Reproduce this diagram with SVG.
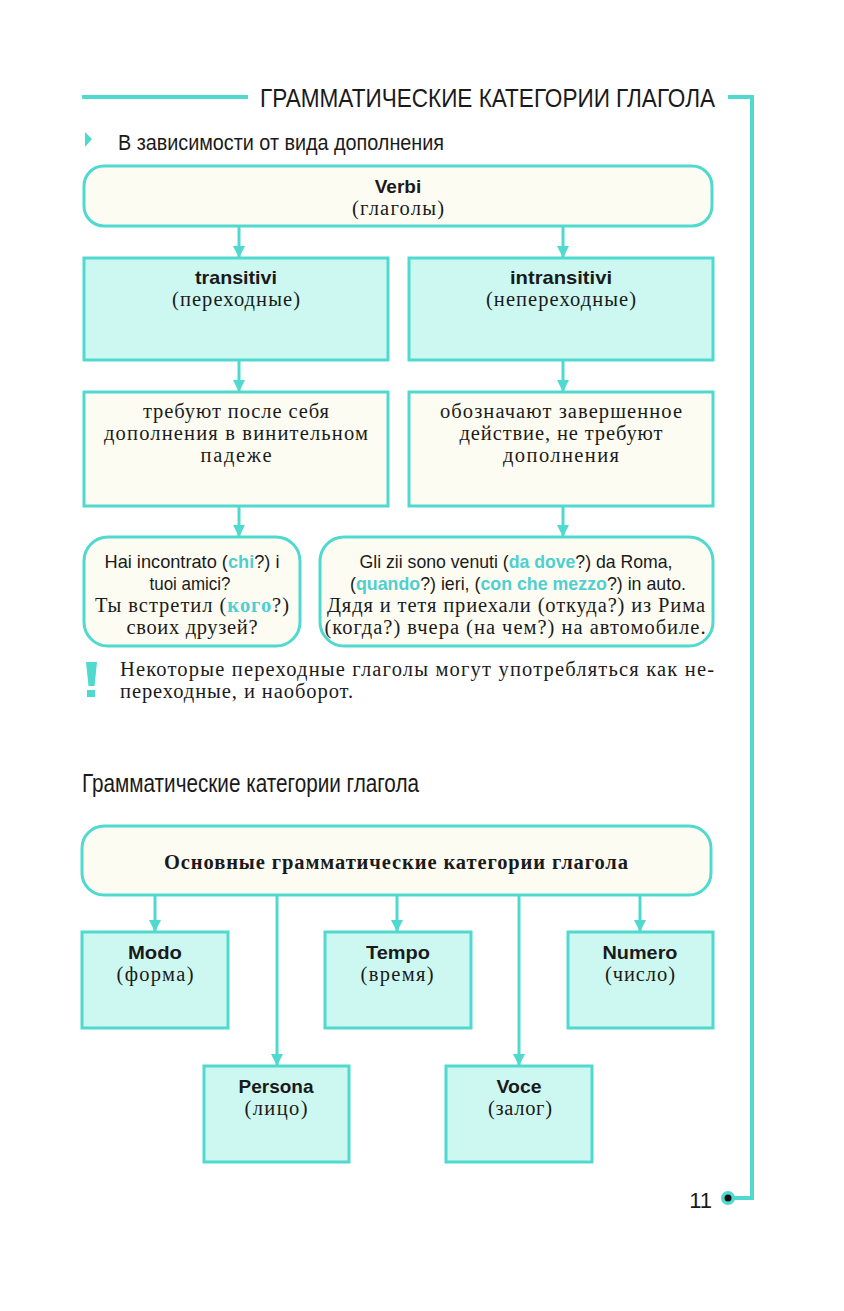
<svg xmlns="http://www.w3.org/2000/svg" width="844" height="1311" viewBox="0 0 844 1311">
<style>
  .bg{fill:#ffffff}
  .frame{fill:none;stroke:#4fd9cf;stroke-width:4}
  .cream{fill:#fdfcf3;stroke:#4fd9cf;stroke-width:3}
  .cyan{fill:#cdf8f1;stroke:#4fd9cf;stroke-width:3}
  .conn{fill:none;stroke:#4fd9cf;stroke-width:3}
  .sans{font-family:"Liberation Sans","Open Sans",sans-serif;fill:#1a1a1a}
  .serif{font-family:"Liberation Serif","DejaVu Serif",serif;fill:#1a1a1a;font-size:20.5px}
  .bold{font-weight:bold}
  .hl{fill:#4fcfd0;font-weight:bold}
  .mid{text-anchor:middle}
</style>
<defs>
  <marker id="ah" viewBox="0 0 12 12" refX="12" refY="6" markerWidth="12" markerHeight="12" orient="auto" markerUnits="userSpaceOnUse">
    <path d="M0,0 L12,6 L0,12 z" fill="#4fd9cf"/>
  </marker>
</defs>
<rect class="bg" x="0" y="0" width="844" height="1311"/>

<g id="page-frame">
  <line class="frame" x1="82" y1="97" x2="248" y2="97"/>
  <polyline class="frame" points="728,97 752,97 752,1198 730,1198"/>
  <circle cx="728" cy="1198" r="7" fill="#4fd9cf"/>
  <circle cx="728" cy="1198" r="3.5" fill="#111"/>
  <text class="sans" x="260" y="107" font-size="25" textLength="455" lengthAdjust="spacingAndGlyphs">ГРАММАТИЧЕСКИЕ КАТЕГОРИИ ГЛАГОЛА</text>
  <text class="sans" x="712" y="1208" font-size="22" text-anchor="end">11</text>
</g>

<g id="subtitle">
  <path d="M85,132 L92,139 L85,147 z" fill="#4fd9cf"/>
  <text class="sans" x="118" y="150" font-size="22" textLength="326" lengthAdjust="spacingAndGlyphs">В зависимости от вида дополнения</text>
</g>

<g id="connectors">
  <line class="conn" x1="239" y1="226" x2="239" y2="258" marker-end="url(#ah)"/>
  <line class="conn" x1="563" y1="226" x2="563" y2="258" marker-end="url(#ah)"/>
  <line class="conn" x1="239" y1="360" x2="239" y2="392" marker-end="url(#ah)"/>
  <line class="conn" x1="563" y1="360" x2="563" y2="392" marker-end="url(#ah)"/>
  <line class="conn" x1="239" y1="506" x2="239" y2="537" marker-end="url(#ah)"/>
  <line class="conn" x1="563" y1="506" x2="563" y2="537" marker-end="url(#ah)"/>
  <line class="conn" x1="155" y1="895" x2="155" y2="932" marker-end="url(#ah)"/>
  <line class="conn" x1="397" y1="895" x2="397" y2="932" marker-end="url(#ah)"/>
  <line class="conn" x1="640" y1="895" x2="640" y2="932" marker-end="url(#ah)"/>
  <line class="conn" x1="277" y1="895" x2="277" y2="1066" marker-end="url(#ah)"/>
  <line class="conn" x1="519" y1="895" x2="519" y2="1066" marker-end="url(#ah)"/>
</g>

<g id="verbi">
  <rect class="cream" x="84" y="166" width="628" height="60" rx="20"/>
  <text class="sans bold mid" x="398" y="193" font-size="19">Verbi</text>
  <text class="serif mid" x="398" y="215" textLength="92" lengthAdjust="spacing">(глаголы)</text>
</g>

<g id="transitivi">
  <rect class="cyan" x="84" y="258" width="304" height="102"/>
  <text class="sans bold mid" x="236" y="284" font-size="19" textLength="82" lengthAdjust="spacingAndGlyphs">transitivi</text>
  <text class="serif mid" x="236" y="306" textLength="128" lengthAdjust="spacing">(переходные)</text>
</g>

<g id="intransitivi">
  <rect class="cyan" x="409" y="258" width="304" height="102"/>
  <text class="sans bold mid" x="561" y="284" font-size="19" textLength="102" lengthAdjust="spacingAndGlyphs">intransitivi</text>
  <text class="serif mid" x="561" y="306" textLength="150" lengthAdjust="spacing">(непереходные)</text>
</g>

<g id="trans-desc">
  <rect class="cream" x="84" y="392" width="304" height="114"/>
  <text class="serif mid" x="236" y="418" textLength="186" lengthAdjust="spacing">требуют после себя</text>
  <text class="serif mid" x="236" y="440" textLength="264" lengthAdjust="spacing">дополнения в винительном</text>
  <text class="serif mid" x="236" y="462" textLength="71" lengthAdjust="spacing">падеже</text>
</g>

<g id="intrans-desc">
  <rect class="cream" x="409" y="392" width="304" height="114"/>
  <text class="serif mid" x="561" y="418" textLength="242" lengthAdjust="spacing">обозначают завершенное</text>
  <text class="serif mid" x="561" y="440" textLength="203" lengthAdjust="spacing">действие, не требуют</text>
  <text class="serif mid" x="561" y="462" textLength="116" lengthAdjust="spacing">дополнения</text>
</g>

<g id="trans-example">
  <rect class="cream" x="84" y="537" width="216" height="109" rx="24"/>
  <text class="sans mid" x="192" y="568" font-size="18.5" textLength="175" lengthAdjust="spacingAndGlyphs">Hai incontrato (<tspan class="hl">chi</tspan>?) i</text>
  <text class="sans mid" x="190" y="590" font-size="18.5" textLength="81" lengthAdjust="spacingAndGlyphs">tuoi amici?</text>
  <text class="serif mid" x="192" y="612" textLength="194" lengthAdjust="spacing">Ты встретил (<tspan class="hl">кого</tspan>?)</text>
  <text class="serif mid" x="192" y="634" textLength="131" lengthAdjust="spacing">своих друзей?</text>
</g>

<g id="intrans-example">
  <rect class="cream" x="320" y="537" width="393" height="109" rx="24"/>
  <text class="sans mid" x="516" y="568" font-size="18.5" textLength="313" lengthAdjust="spacingAndGlyphs">Gli zii sono venuti (<tspan class="hl">da dove</tspan>?) da Roma,</text>
  <text class="sans mid" x="518" y="590" font-size="18.5" textLength="336" lengthAdjust="spacingAndGlyphs">(<tspan class="hl">quando</tspan>?) ieri, (<tspan class="hl">con che mezzo</tspan>?) in auto.</text>
  <text class="serif mid" x="516" y="612" textLength="378" lengthAdjust="spacing">Дядя и тетя приехали (откуда?) из Рима</text>
  <text class="serif mid" x="515" y="634" textLength="381" lengthAdjust="spacing">(когда?) вчера (на чем?) на автомобиле.</text>
</g>

<g id="note">
  <path d="M86,662 L97,662 L94.5,686 L88.5,686 z" fill="#4fd9cf"/>
  <rect x="87" y="690" width="8" height="7" fill="#4fd9cf"/>
  <text class="serif" x="120" y="676" textLength="594" lengthAdjust="spacing">Некоторые переходные глаголы могут употребляться как не-</text>
  <text class="serif" x="120" y="698" textLength="233" lengthAdjust="spacing">переходные, и наоборот.</text>
</g>

<g id="heading2">
  <text class="sans" x="82" y="792" font-size="25" textLength="337" lengthAdjust="spacingAndGlyphs">Грамматические категории глагола</text>
</g>

<g id="main-categories">
  <rect class="cream" x="82" y="826" width="629" height="69" rx="22"/>
  <text class="serif bold mid" x="396" y="869" textLength="464" lengthAdjust="spacing">Основные грамматические категории глагола</text>
</g>

<g id="modo">
  <rect class="cyan" x="82" y="932" width="146" height="96"/>
  <text class="sans bold mid" x="155" y="959" font-size="19" textLength="54" lengthAdjust="spacingAndGlyphs">Modo</text>
  <text class="serif mid" x="155" y="981" textLength="77" lengthAdjust="spacing">(форма)</text>
</g>

<g id="tempo">
  <rect class="cyan" x="325" y="932" width="146" height="96"/>
  <text class="sans bold mid" x="398" y="959" font-size="19" textLength="64" lengthAdjust="spacingAndGlyphs">Tempo</text>
  <text class="serif mid" x="397" y="981" textLength="73" lengthAdjust="spacing">(время)</text>
</g>

<g id="numero">
  <rect class="cyan" x="568" y="932" width="145" height="96"/>
  <text class="sans bold mid" x="640" y="959" font-size="19" textLength="75" lengthAdjust="spacingAndGlyphs">Numero</text>
  <text class="serif mid" x="640" y="981" textLength="70" lengthAdjust="spacing">(число)</text>
</g>

<g id="persona">
  <rect class="cyan" x="204" y="1066" width="145" height="96"/>
  <text class="sans bold mid" x="276" y="1093" font-size="19" textLength="75" lengthAdjust="spacingAndGlyphs">Persona</text>
  <text class="serif mid" x="276" y="1115" textLength="63" lengthAdjust="spacing">(лицо)</text>
</g>

<g id="voce">
  <rect class="cyan" x="446" y="1066" width="146" height="96"/>
  <text class="sans bold mid" x="519" y="1093" font-size="19" textLength="45" lengthAdjust="spacingAndGlyphs">Voce</text>
  <text class="serif mid" x="520" y="1115" textLength="64" lengthAdjust="spacing">(залог)</text>
</g>
</svg>
